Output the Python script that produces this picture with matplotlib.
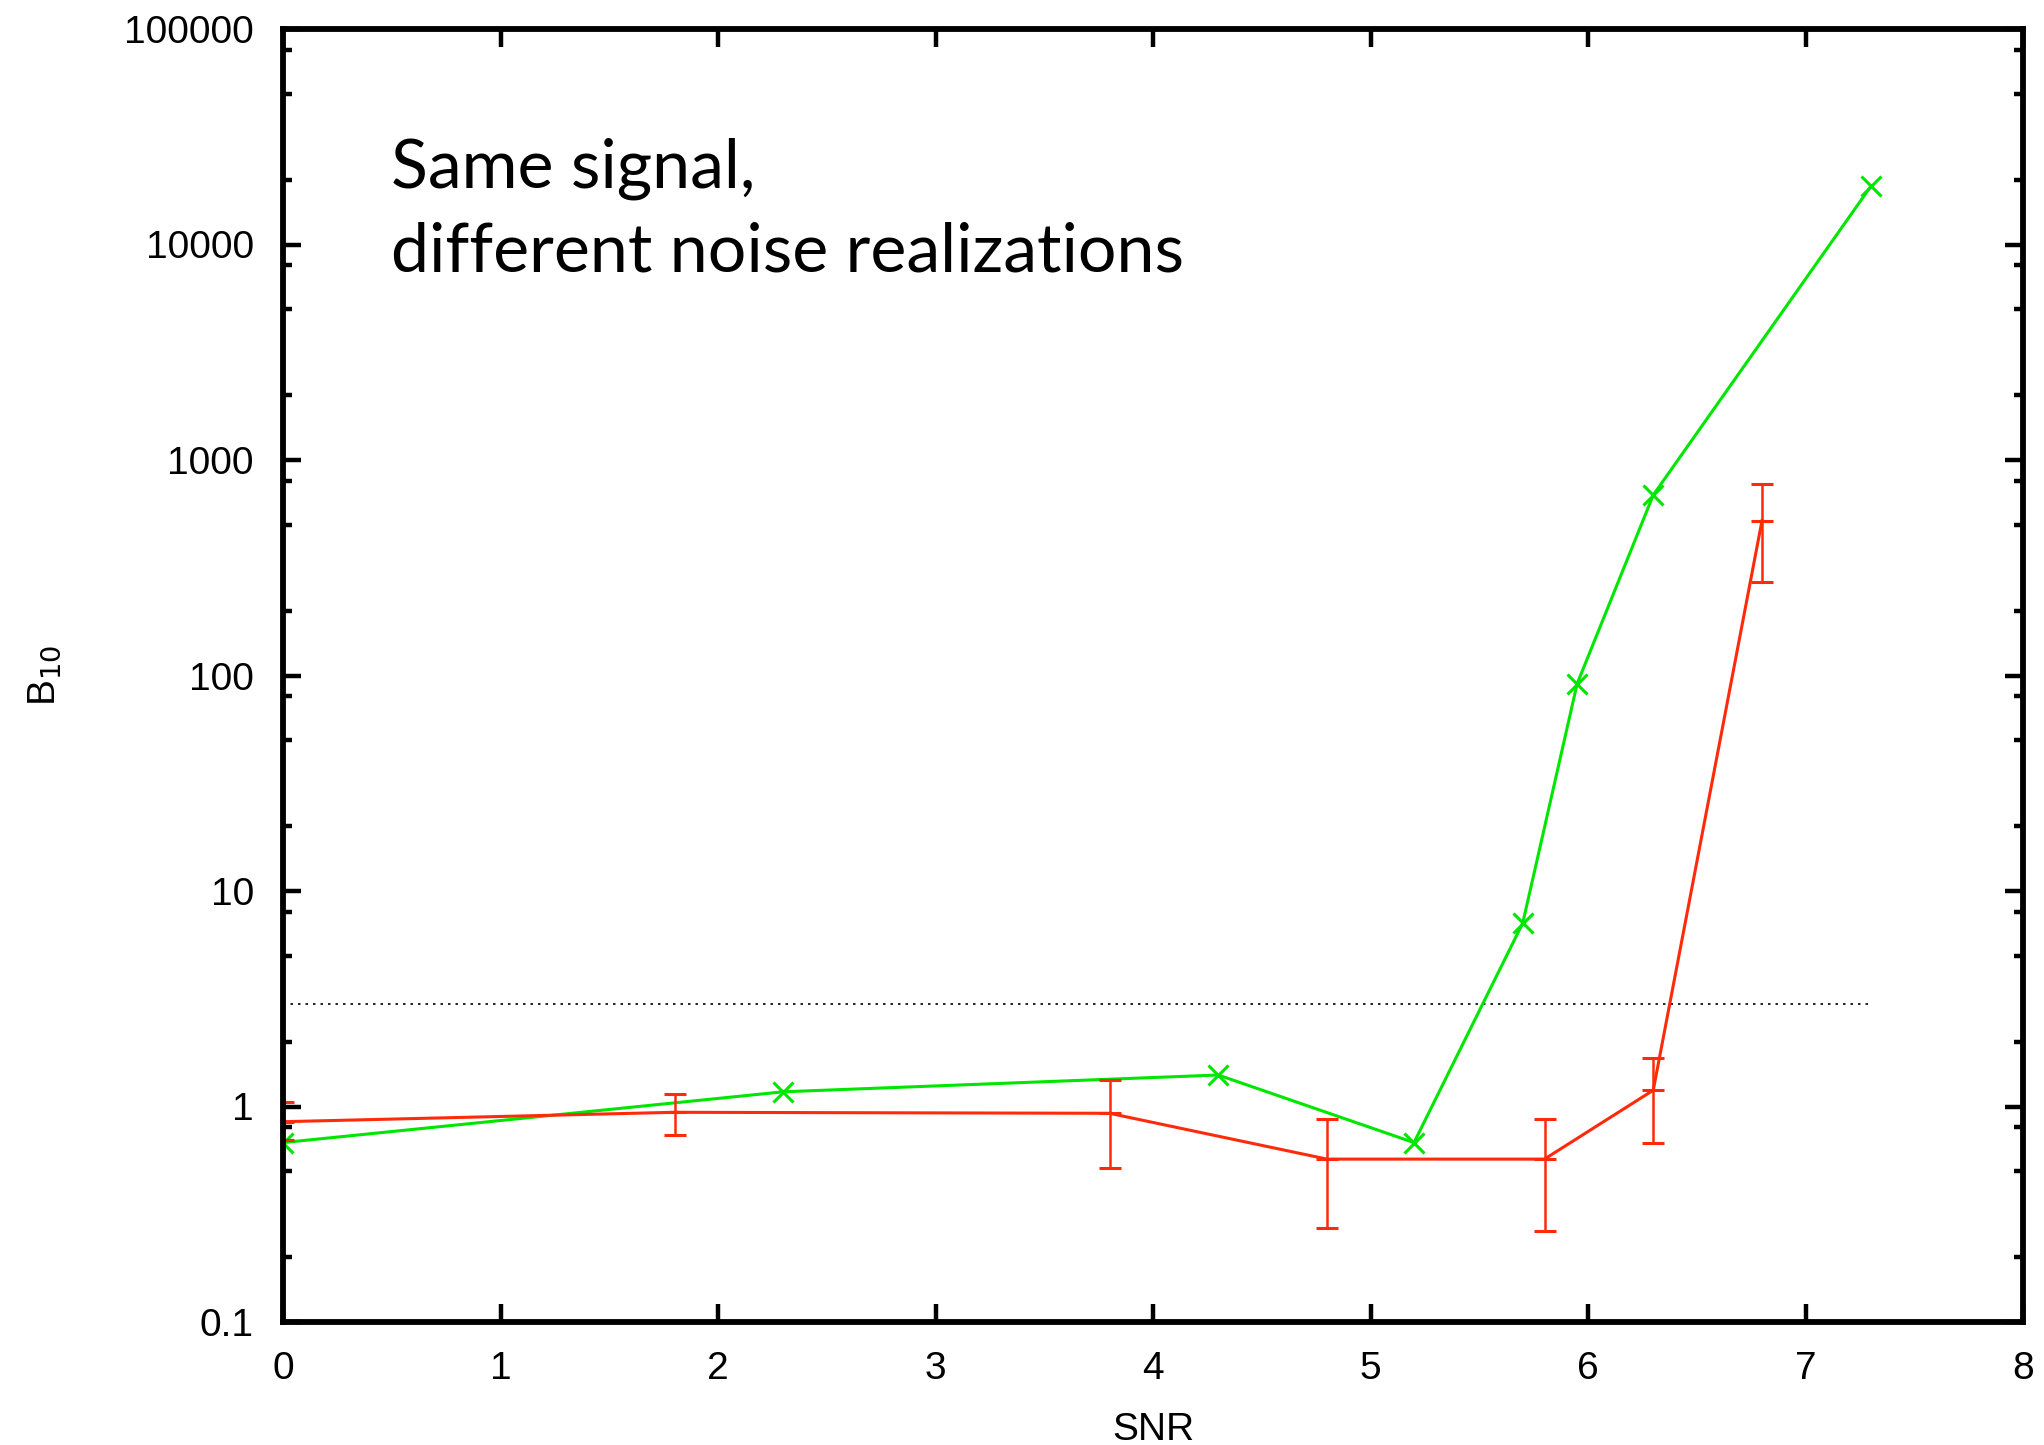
import numpy as np
import matplotlib
matplotlib.use("Agg")
import matplotlib.pyplot as plt
from matplotlib.ticker import FixedLocator, FixedFormatter

# datos
snr_green = [0.0, 2.3, 4.3, 5.2, 5.7, 5.95, 6.3, 7.3]
b10_green = [0.68, 1.17, 1.40, 0.68, 7.1, 91.5, 688, 18600]

snr_red = [0.0, 1.8, 3.8, 4.8, 5.8, 6.3, 6.8]
b10_red = [0.85, 0.94, 0.93, 0.57, 0.57, 1.19, 523]
b10_red_hi = [1.05, 1.14, 1.33, 0.875, 0.875, 1.68, 774]
b10_red_lo = [0.70, 0.74, 0.52, 0.273, 0.264, 0.68, 271]

threshold = 3.0
threshold_x = [0.0, 7.3]

y_ticks = [0.1, 1, 10, 100, 1000, 10000, 100000]
y_labels = ["0.1", "1", "10", "100", "1000", "10000", "100000"]
x_ticks = [0, 1, 2, 3, 4, 5, 6, 7, 8]

note_lines = ["Same signal,", "different noise realizations"]

green = "#00e600"
red = "#ff2a0a"

plt.rcParams["font.family"] = ["Liberation Sans", "DejaVu Sans"]

fig = plt.figure(figsize=(20.44, 14.45), dpi=100)
ax = fig.add_axes([283 / 2044, 1 - 1322 / 1445, (2023 - 283) / 2044, (1322 - 29) / 1445])

# linea de umbral
ax.plot(threshold_x, [threshold, threshold], color="black", lw=1.2, ls=(0, (1.5, 3)))

# serie verde
ax.plot(snr_green, b10_green, color=green, lw=2.2, marker="x", ms=14, mew=2.2)

# serie roja con barras de error
yerr = [np.array(b10_red) - np.array(b10_red_lo), np.array(b10_red_hi) - np.array(b10_red)]
ax.errorbar(snr_red, b10_red, yerr=yerr, color=red, lw=2.2, elinewidth=1.8,
            capsize=8, capthick=2.2, marker="_", ms=16, mew=2.2)

ax.set_yscale("log")
ax.set_xlim(0, 8)
ax.set_ylim(0.1, 100000)

ax.xaxis.set_major_locator(FixedLocator(x_ticks))
ax.yaxis.set_major_locator(FixedLocator(y_ticks))
ax.yaxis.set_major_formatter(FixedFormatter(y_labels))
minor = [m * 10.0 ** e for e in range(-1, 5) for m in (2, 5, 8)]
ax.yaxis.set_minor_locator(FixedLocator(minor))
ax.yaxis.set_minor_formatter(FixedFormatter([""] * len(minor)))

ax.tick_params(which="both", direction="in", top=True, right=True, labelsize=28, width=3.2)
ax.tick_params(axis="x", which="major", length=13, pad=21)
ax.tick_params(axis="y", which="major", length=13, pad=21)
ax.tick_params(axis="y", which="minor", length=6.5)
for s in ax.spines.values():
    s.set_linewidth(4.2)

ax.set_xlabel("SNR", fontsize=28, labelpad=18)
ax.set_ylabel("B$_{10}$", fontsize=28, labelpad=44)

# texto del recuadro, una linea por texto
for line, base in zip(note_lines, [187, 272]):
    fig.text(391 / 2044, 1 - base / 1445, line, fontsize=49,
             family=["Lato", "DejaVu Sans"], va="baseline", ha="left")

fig.savefig("out.png", dpi=100)
